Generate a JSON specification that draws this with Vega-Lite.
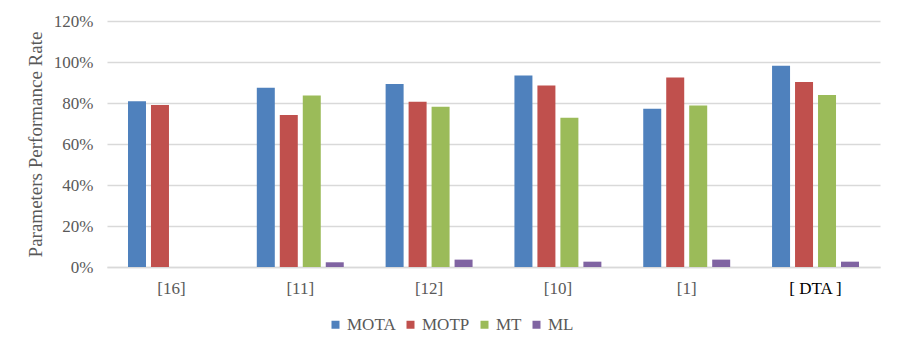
{
  "$schema": "https://vega.github.io/schema/vega-lite/v6.json",
  "autosize": {"type": "none"},
  "width": 773,
  "height": 246,
  "padding": {"left": 107, "top": 21, "right": 20, "bottom": 86},
  "background": "white",
  "data": {"values": [
    {"ref": "[16]", "metric": "MOTA", "value": 0.808},
    {"ref": "[16]", "metric": "MOTP", "value": 0.790},
    {"ref": "[11]", "metric": "MOTA", "value": 0.875},
    {"ref": "[11]", "metric": "MOTP", "value": 0.741},
    {"ref": "[11]", "metric": "MT", "value": 0.836},
    {"ref": "[11]", "metric": "ML", "value": 0.023},
    {"ref": "[12]", "metric": "MOTA", "value": 0.893},
    {"ref": "[12]", "metric": "MOTP", "value": 0.806},
    {"ref": "[12]", "metric": "MT", "value": 0.782},
    {"ref": "[12]", "metric": "ML", "value": 0.036},
    {"ref": "[10]", "metric": "MOTA", "value": 0.934},
    {"ref": "[10]", "metric": "MOTP", "value": 0.885},
    {"ref": "[10]", "metric": "MT", "value": 0.728},
    {"ref": "[10]", "metric": "ML", "value": 0.026},
    {"ref": "[1]", "metric": "MOTA", "value": 0.772},
    {"ref": "[1]", "metric": "MOTP", "value": 0.925},
    {"ref": "[1]", "metric": "MT", "value": 0.788},
    {"ref": "[1]", "metric": "ML", "value": 0.036},
    {"ref": "[ DTA ]", "metric": "MOTA", "value": 0.982},
    {"ref": "[ DTA ]", "metric": "MOTP", "value": 0.902},
    {"ref": "[ DTA ]", "metric": "MT", "value": 0.839},
    {"ref": "[ DTA ]", "metric": "ML", "value": 0.026}
  ]},
  "mark": {"type": "bar"},
  "encoding": {
    "x": {
      "field": "ref", "type": "nominal",
      "sort": ["[16]", "[11]", "[12]", "[10]", "[1]", "[ DTA ]"],
      "scale": {"paddingInner": 0.325, "paddingOuter": 0.163},
      "axis": {
        "title": null, "labelAngle": 0, "ticks": false,
        "domainColor": "#d9d9d9", "domainWidth": 1.5,
        "labelFont": "Liberation Serif", "labelFontSize": 17,
        "labelColor": {"condition": {"test": "datum.value == '[ DTA ]'", "value": "#000000"}, "value": "#595959"},
        "labelPadding": 13
      }
    },
    "xOffset": {
      "field": "metric", "type": "nominal",
      "sort": ["MOTA", "MOTP", "MT", "ML"],
      "scale": {"paddingInner": 0.217}
    },
    "y": {
      "field": "value", "type": "quantitative",
      "scale": {"domain": [0, 1.2], "nice": false},
      "axis": {
        "values": [0, 0.2, 0.4, 0.6, 0.8, 1.0, 1.2],
        "format": ".0%", "title": "Parameters Performance Rate",
        "ticks": false, "domain": false,
        "gridColor": "#d9d9d9", "gridWidth": 1.5,
        "labelFont": "Liberation Serif", "labelFontSize": 17, "labelColor": "#595959",
        "labelPadding": 14,
        "titleFont": "Liberation Serif", "titleFontSize": 19, "titleFontWeight": "normal",
        "titleColor": "#595959", "titlePadding": 8
      }
    },
    "color": {
      "field": "metric", "type": "nominal",
      "sort": ["MOTA", "MOTP", "MT", "ML"],
      "scale": {"domain": ["MOTA", "MOTP", "MT", "ML"], "range": ["#4f81bd", "#c0504d", "#9bbb59", "#8064a2"]},
      "legend": {
        "orient": "none", "legendX": 220, "legendY": 295, "direction": "horizontal", "title": null,
        "symbolType": "square", "symbolSize": 64, "symbolStrokeWidth": 0,
        "labelFont": "Liberation Serif", "labelFontSize": 17, "labelColor": "#595959",
        "columnPadding": 6, "labelOffset": 3
      }
    }
  },
  "config": {"view": {"stroke": null}, "font": "Liberation Serif", "legend": {"labelFont": "Liberation Serif"}}
}
